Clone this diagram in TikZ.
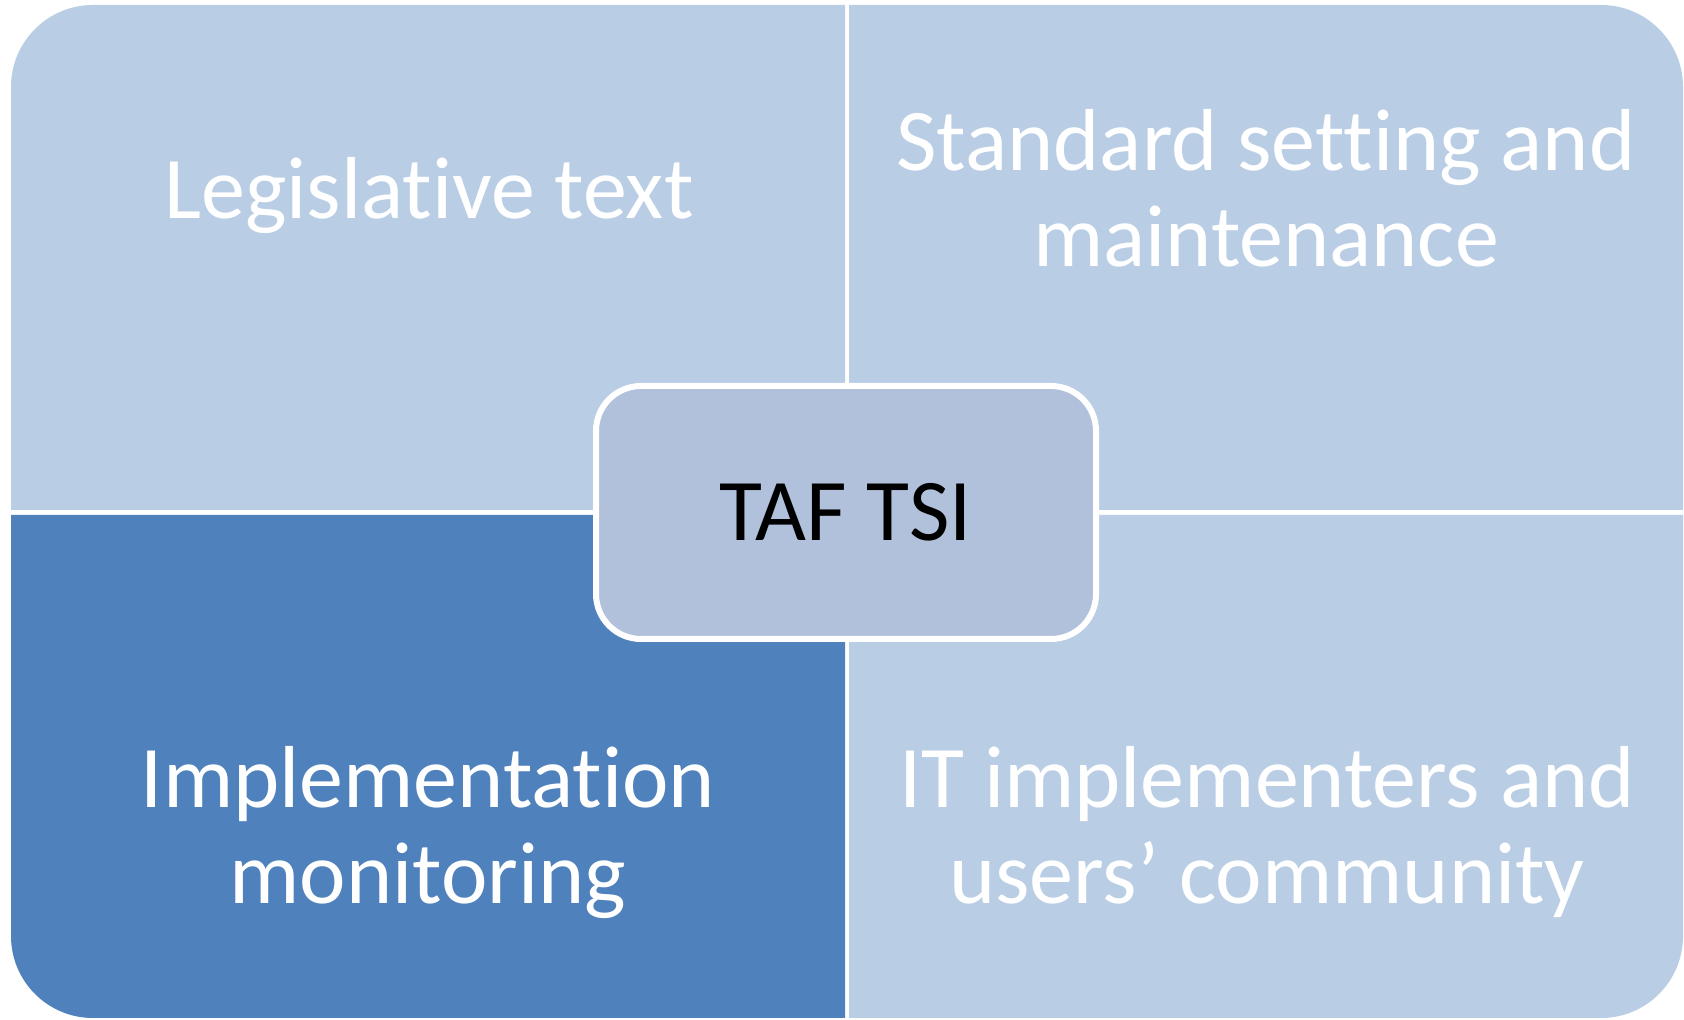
\documentclass[tikz,border=0pt]{standalone}
\usepackage{fontspec}
\setmainfont{Carlito}[Ligatures=NoCommon]
\definecolor{lightq}{RGB}{185,205,229}
\definecolor{darkq}{RGB}{79,129,189}
\definecolor{centerq}{RGB}{177,193,219}
\begin{document}
\begin{tikzpicture}[x=1pt,y=1pt,
  qtext/.style={text=white,font=\fontsize{88}{96}\selectfont,align=center,inner sep=0pt,anchor=base},
  hub/.style={draw=white,line width=6pt,fill=centerq,rounded corners=45pt,minimum width=500pt,minimum height=253pt,inner sep=0pt,font=\fontsize{88}{96}\selectfont,text=black}]
\useasboundingbox (0,0) rectangle (1684,1020);
\fill[white] (0,0) rectangle (1684,1020);
% quadrants
\fill[lightq] (11,510) -- (11,933) arc[start angle=180,end angle=90,radius=82] -- (845,1015) -- (845,510) -- cycle;
\fill[lightq] (849,510) -- (849,1015) -- (1601,1015) arc[start angle=90,end angle=0,radius=82] -- (1683,510) -- cycle;
\fill[darkq] (11,505) -- (845,505) -- (845,2) -- (93,2) arc[start angle=270,end angle=180,radius=82] -- cycle;
\fill[lightq] (849,505) -- (1683,505) -- (1683,84) arc[start angle=0,end angle=-90,radius=82] -- (849,2) -- cycle;
% texts (base anchor = baseline of the last line)
\node[qtext] (leg) at (429,801) {Legislative text};
\node[qtext] (std) at (1266,753) {Standard setting and\\maintenance};
\node[qtext] (imp) at (428,116) {Implementation\\monitoring};
\node[qtext] (itc) at (1267,116) {IT implementers and\\users’ community};
% hub
\node[hub] (taf) at (846,507.5) {TAF TSI};
\end{tikzpicture}
\end{document}
